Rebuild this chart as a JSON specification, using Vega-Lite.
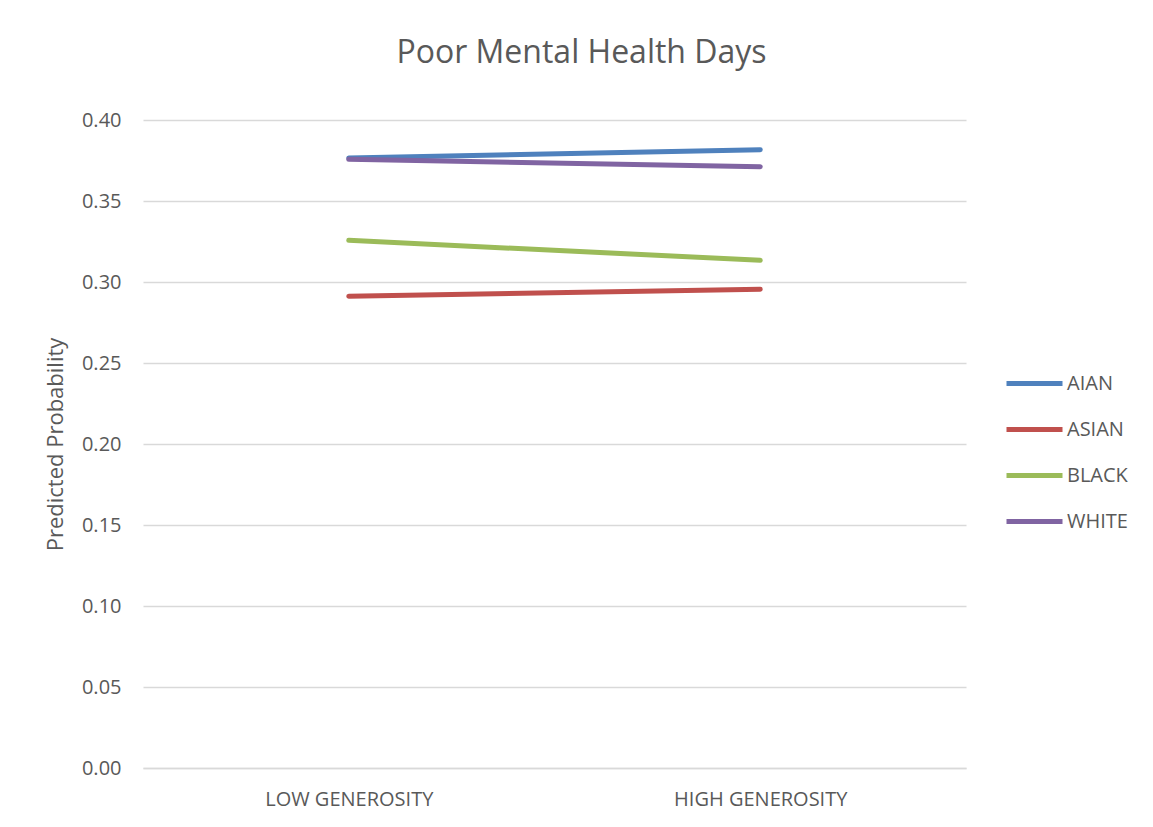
{
  "$schema": "https://vega.github.io/schema/vega-lite/v6.json",
  "autosize": {"type": "none"},
  "width": 823,
  "height": 648,
  "padding": {"left": 143, "top": 120, "right": 187, "bottom": 59},
  "background": "white",
  "title": {
    "text": "Poor Mental Health Days",
    "font": "Open Sans",
    "fontSize": 32,
    "fontWeight": "normal",
    "color": "#595959",
    "anchor": "middle",
    "frame": "group",
    "dx": 27,
    "offset": 40
  },
  "data": {
    "values": [
      {"level": "LOW GENEROSITY", "group": "AIAN", "prob": 0.3765},
      {"level": "HIGH GENEROSITY", "group": "AIAN", "prob": 0.3817},
      {"level": "LOW GENEROSITY", "group": "ASIAN", "prob": 0.2912},
      {"level": "HIGH GENEROSITY", "group": "ASIAN", "prob": 0.2955},
      {"level": "LOW GENEROSITY", "group": "BLACK", "prob": 0.3257},
      {"level": "HIGH GENEROSITY", "group": "BLACK", "prob": 0.3134},
      {"level": "LOW GENEROSITY", "group": "WHITE", "prob": 0.3757},
      {"level": "HIGH GENEROSITY", "group": "WHITE", "prob": 0.3712}
    ]
  },
  "mark": {"type": "line", "strokeWidth": 5, "strokeCap": "round"},
  "encoding": {
    "x": {
      "field": "level",
      "type": "nominal",
      "sort": ["LOW GENEROSITY", "HIGH GENEROSITY"],
      "scale": {"type": "point", "padding": 0.5},
      "axis": {
        "title": null,
        "labelAngle": 0,
        "domain": true,
        "domainColor": "#d9d9d9",
        "domainWidth": 1.5,
        "ticks": false,
        "grid": false,
        "labelPadding": 21,
        "labelFont": "Open Sans",
        "labelFontSize": 20,
        "labelColor": "#595959"
      }
    },
    "y": {
      "field": "prob",
      "type": "quantitative",
      "scale": {"domain": [0, 0.4], "nice": false, "zero": true},
      "axis": {
        "title": "Predicted Probability",
        "titleFont": "Open Sans",
        "titleFontSize": 22,
        "titleFontWeight": "normal",
        "titleColor": "#595959",
        "titlePadding": 14,
        "values": [0, 0.05, 0.1, 0.15, 0.2, 0.25, 0.3, 0.35, 0.4],
        "format": ".2f",
        "domain": false,
        "ticks": false,
        "grid": true,
        "gridColor": "#d9d9d9",
        "gridWidth": 1.5,
        "labelPadding": 22,
        "labelFont": "Open Sans",
        "labelFontSize": 20,
        "labelColor": "#595959"
      }
    },
    "color": {
      "field": "group",
      "type": "nominal",
      "scale": {
        "domain": ["AIAN", "ASIAN", "BLACK", "WHITE"],
        "range": ["#4F81BD", "#C0504D", "#9BBB59", "#8064A2"]
      },
      "legend": {
        "title": null,
        "orient": "none",
        "legendX": 861,
        "legendY": 233,
        "symbolType": "stroke",
        "symbolSize": 3136,
        "symbolStrokeWidth": 5,
        "labelFont": "Open Sans",
        "labelFontSize": 20,
        "labelColor": "#595959",
        "labelOffset": 2,
        "rowPadding": 5
      }
    }
  },
  "config": {
    "view": {"stroke": null}
  }
}
